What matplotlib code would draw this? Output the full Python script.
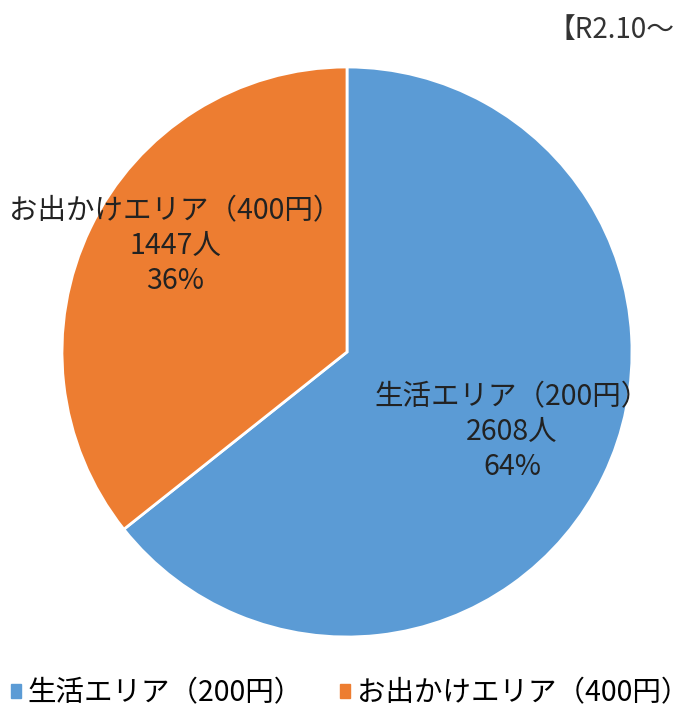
import matplotlib
matplotlib.use("Agg")
import matplotlib.pyplot as plt

plt.rcParams['font.family'] = ['Noto Sans CJK JP', 'DejaVu Sans']

categories = ["生活エリア（200円）", "お出かけエリア（400円）"]
counts = [2608, 1447]
percents = ["64%", "36%"]
colors = ["#5b9bd5", "#ed7d31"]
title_text = "【R2.10～"

W, H = 692, 716
fig = plt.figure(figsize=(W/100, H/100), dpi=100)
cx, cy, r = 347, 352, 285
ax = fig.add_axes([(cx-r)/W, (H-cy-r)/H, 2*r/W, 2*r/H])
wedges, _ = ax.pie(counts, colors=colors, startangle=90, counterclock=False,
                   wedgeprops=dict(edgecolor="white", linewidth=2))
ax.set_xlim(-1, 1); ax.set_ylim(-1, 1)
ax.set_aspect("equal")
ax.axis("off")

# data labels (positions in pixel space of reference)
label_pos = [(512, 432), (175, 246)]
for (px, py), cat, n, p in zip(label_pos, categories, counts, percents):
    fig.text(px/W, (H-py)/H, f"{cat}\n{n}人\n{p}", ha="center", va="center",
             fontsize=20.5, color="#222222", linespacing=1.2)

fig.text(548/W, (H-30)/H, title_text, ha="left", va="center", fontsize=20, color="#333333")

handles = [plt.Rectangle((0, 0), 1, 1, color=c) for c in colors]
fig.legend(handles, categories, loc="center", bbox_to_anchor=(350/W, (H-693)/H),
           ncol=2, frameon=False, fontsize=20.5, handlelength=0.35, handleheight=0.35,
           handletextpad=0.25, columnspacing=1.3, borderpad=0, borderaxespad=0)

fig.savefig("out.png", dpi=100)
